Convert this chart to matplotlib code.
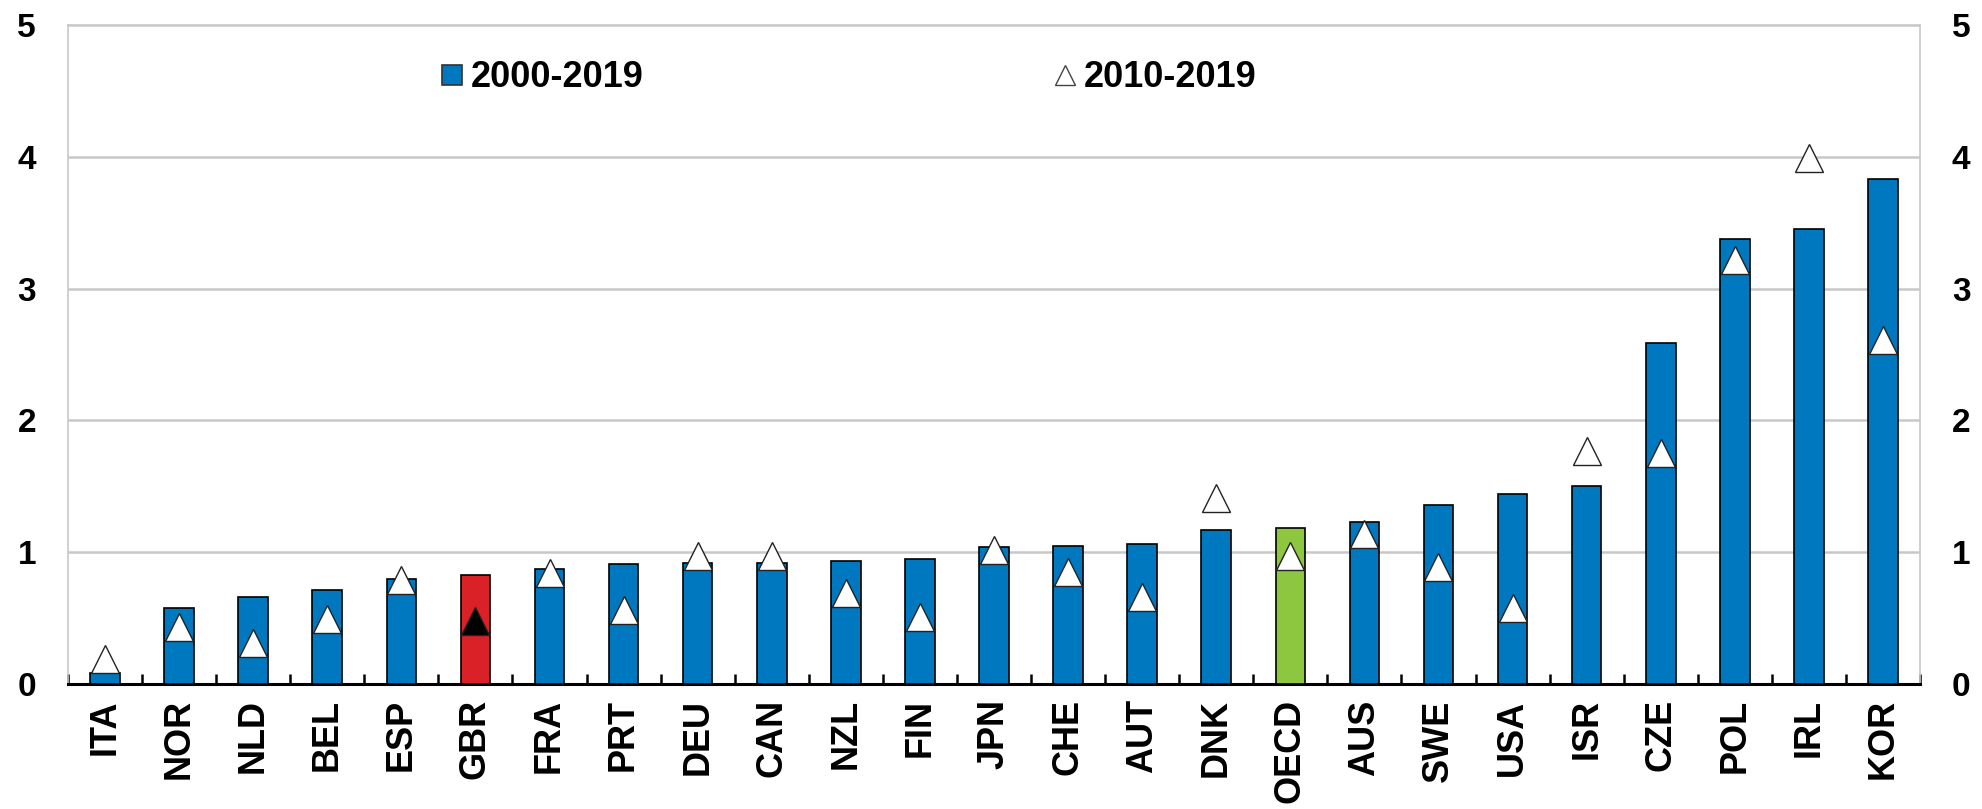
import matplotlib
matplotlib.use("Agg")
import matplotlib.pyplot as plt
from matplotlib.lines import Line2D
import numpy as np

countries = ["ITA", "NOR", "NLD", "BEL", "ESP", "GBR", "FRA", "PRT", "DEU", "CAN",
             "NZL", "FIN", "JPN", "CHE", "AUT", "DNK", "OECD", "AUS", "SWE", "USA",
             "ISR", "CZE", "POL", "IRL", "KOR"]
growth_2000_2019 = [0.08, 0.58, 0.66, 0.71, 0.80, 0.83, 0.87, 0.91, 0.92, 0.92,
                    0.93, 0.95, 1.04, 1.05, 1.06, 1.17, 1.18, 1.23, 1.36, 1.44,
                    1.50, 2.59, 3.38, 3.45, 3.83]
growth_2010_2019 = [0.19, 0.43, 0.31, 0.49, 0.79, 0.48, 0.84, 0.56, 0.97, 0.97,
                    0.69, 0.51, 1.02, 0.85, 0.66, 1.41, 0.97, 1.14, 0.89, 0.58,
                    1.77, 1.75, 3.22, 3.99, 2.61]
y_ticks = [0, 1, 2, 3, 4, 5]
highlight = {"GBR": "#DA2128", "OECD": "#8DC63F"}
blue = "#0078BF"

plt.rcParams["font.family"] = ["Liberation Sans", "DejaVu Sans"]
plt.rcParams["font.weight"] = "bold"

fig = plt.figure(figsize=(19.82, 8.09), dpi=100)
ax = fig.add_axes([68 / 1982, 1 - 684 / 809, (1920 - 68) / 1982, (684 - 25) / 809])

x = np.arange(len(countries))
colors = [highlight.get(c, blue) for c in countries]
ax.bar(x, growth_2000_2019, width=0.4, color=colors, edgecolor="black", linewidth=1.2, zorder=3)

tri_face = ["black" if c == "GBR" else "white" for c in countries]
for xi, yi, fc in zip(x, growth_2010_2019, tri_face):
    ax.plot(xi, yi, marker="^", markersize=19.5, markerfacecolor=fc,
            markeredgecolor="#222222", markeredgewidth=1.0, linestyle="none", zorder=4)

ax.set_xlim(-0.5, len(countries) - 0.5)
ax.set_ylim(0, 5)
ax.set_yticks(y_ticks)
ax.set_yticklabels([str(t) for t in y_ticks], fontsize=24, fontweight="bold")
ax.yaxis.grid(True, color="#C8C8C8", linewidth=1.8, zorder=0)
ax.set_axisbelow(True)

ax.set_xticks(x)
ax.set_xticklabels(countries, rotation=90, fontsize=26, fontweight="bold")
ax.tick_params(axis="x", length=0, pad=11)
ax.set_xticks(np.arange(-0.5, len(countries), 1.0), minor=True)
ax.tick_params(axis="x", which="minor", direction="in", length=7.5, width=1.8, color="black")

ax.tick_params(axis="y", length=0, labelsize=24, pad=23, labelleft=True, labelright=True)

for side in ["left", "right", "top"]:
    ax.spines[side].set_color("#C8C8C8")
    ax.spines[side].set_linewidth(1.2)
ax.spines["bottom"].set_color("black")
ax.spines["bottom"].set_linewidth(2.2)

h1 = Line2D([], [], marker="s", markersize=14, markerfacecolor=blue,
            markeredgecolor="#333333", markeredgewidth=1.2, linestyle="none")
h2 = Line2D([], [], marker="^", markersize=15, markerfacecolor="white",
            markeredgecolor="#444444", markeredgewidth=1.0, linestyle="none")
leg1 = ax.legend([h1], ["2000-2019"], loc="center left", bbox_to_anchor=(0.192, 0.92),
                 frameon=False, handlelength=0.6, handletextpad=0.2,
                 borderpad=0, prop={"weight": "bold", "size": 26})
ax.add_artist(leg1)
ax.legend([h2], ["2010-2019"], loc="center left", bbox_to_anchor=(0.523, 0.92),
          frameon=False, handlelength=0.6, handletextpad=0.2, borderpad=0,
          prop={"weight": "bold", "size": 26})

fig.savefig("out.png", dpi=100)
